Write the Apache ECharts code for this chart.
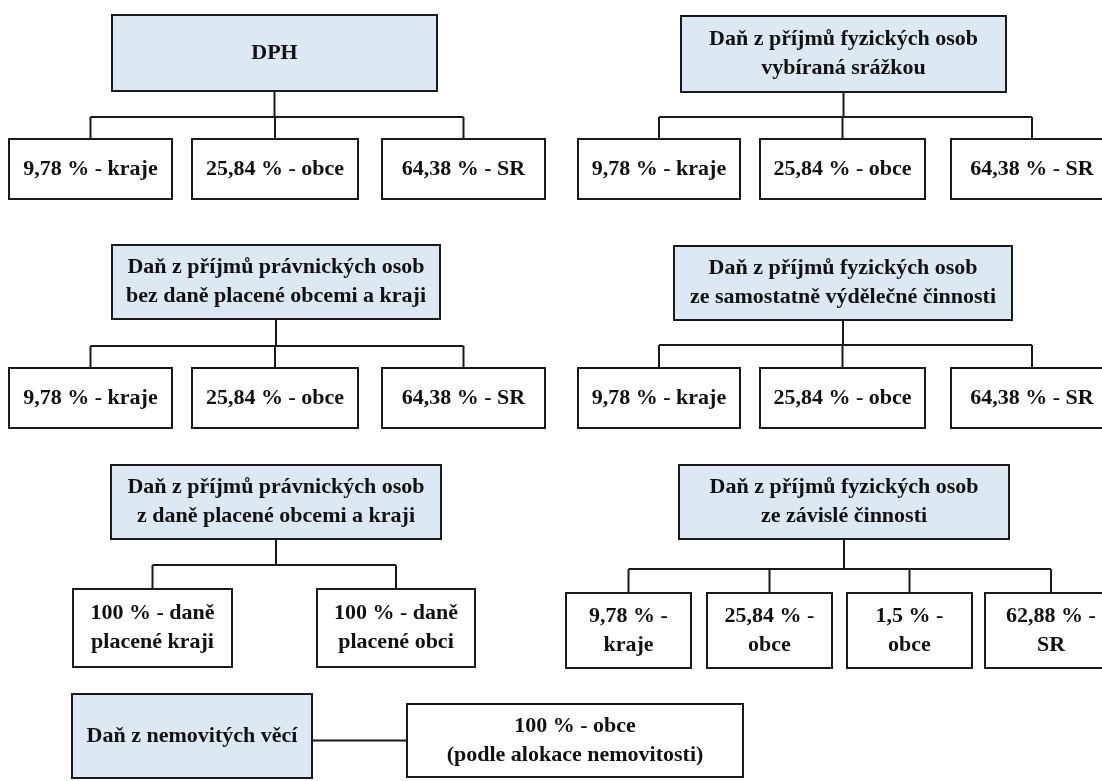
<!DOCTYPE html>
<html>
<head>
<meta charset="utf-8">
<script src="https://cdn.jsdelivr.net/npm/echarts@6/dist/echarts.min.js"></script>
<style>
  html, body { margin: 0; padding: 0; background: #fff; }
  #main { width: 1102px; height: 781px; }
</style>
</head>
<body>
<div id="main"></div>
<script>
var chartDom = document.getElementById("main");
var myChart = echarts.init(chartDom);

// taxes (header boxes)
var taxes = [
  "DPH",
  "Daň z příjmů fyzických osob\nvybíraná srážkou",
  "Daň z příjmů právnických osob\nbez daně placené obcemi a kraji",
  "Daň z příjmů fyzických osob\nze samostatně výdělečné činnosti",
  "Daň z příjmů právnických osob\nz daně placené obcemi a kraji",
  "Daň z příjmů fyzických osob\nze závislé činnosti",
  "Daň z nemovitých věcí"
];

// how each tax is split
var shares = [
  ["9,78 % - kraje", "25,84 % - obce", "64,38 % - SR"],
  ["9,78 % - kraje", "25,84 % - obce", "64,38 % - SR"],
  ["9,78 % - kraje", "25,84 % - obce", "64,38 % - SR"],
  ["9,78 % - kraje", "25,84 % - obce", "64,38 % - SR"],
  ["100 % - daně\nplacené kraji", "100 % - daně\nplacené obci"],
  ["9,78 % -\nkraje", "25,84 % -\nobce", "1,5 % -\nobce", "62,88 % -\nSR"],
  ["100 % - obce\n(podle alokace nemovitosti)"]
];

// layout of the diagram (page pixels, used through the hidden axes)
var layout = [
  { head: [112, 15, 437, 91], bus: 117, leafY: [139, 199], leafX: [[9, 172], [192, 358], [382, 545]] },
  { head: [681, 16, 1006, 92], bus: 117, leafY: [139, 199], leafX: [[578, 740], [760, 925], [951, 1113]] },
  { head: [112, 245, 440, 319], bus: 346, leafY: [368, 428], leafX: [[9, 172], [192, 358], [382, 545]] },
  { head: [674, 246, 1012, 320], bus: 345, leafY: [368, 428], leafX: [[578, 740], [760, 925], [951, 1113]] },
  { head: [111, 465, 441, 539], bus: 565, leafY: [589, 667], leafX: [[73, 232], [317, 475]] },
  { head: [679, 465, 1009, 539], bus: 569, leafY: [593, 668], leafX: [[566, 691], [707, 832], [847, 972], [985, 1117]] },
  { head: [72, 694, 312, 778], side: true, leafY: [704, 777], leafX: [[407, 743]] }
];

var boxes = [];
var links = [];
layout.forEach(function (g, i) {
  boxes.push({ r: g.head, text: taxes[i], head: true });
  g.leafX.forEach(function (lx, j) {
    boxes.push({ r: [lx[0], g.leafY[0], lx[1], g.leafY[1]], text: shares[i][j], head: false });
  });
  if (g.side) {
    var my = (g.leafY[0] + g.leafY[1]) / 2;
    links.push([[g.head[2], my], [g.leafX[0][0], my]]);
  } else {
    var hx = (g.head[0] + g.head[2]) / 2;
    var cx = g.leafX.map(function (lx) { return (lx[0] + lx[1]) / 2; });
    links.push([[hx, g.head[3]], [hx, g.bus]]);
    links.push([[cx[0], g.bus], [cx[cx.length - 1], g.bus]]);
    cx.forEach(function (x) { links.push([[x, g.bus], [x, g.leafY[0]]]); });
  }
});

var font = '"Liberation Serif", "Times New Roman", serif';

var option = {
  animation: false,
  grid: { left: 0, right: 0, top: 0, bottom: 0 },
  xAxis: { type: "value", min: 0, max: 1102, show: false },
  yAxis: { type: "value", min: 0, max: 781, inverse: true, show: false },
  series: [
    {
      type: "custom",
      coordinateSystem: "cartesian2d",
      clip: false,
      data: links.map(function (l, i) { return [i]; }),
      renderItem: function (params, api) {
        var l = links[params.dataIndex];
        var a = api.coord(l[0]);
        var b = api.coord(l[1]);
        return {
          type: "line",
          shape: { x1: a[0], y1: a[1], x2: b[0], y2: b[1] },
          style: { stroke: "#1a1a1a", lineWidth: 2 }
        };
      }
    },
    {
      type: "custom",
      coordinateSystem: "cartesian2d",
      clip: false,
      data: boxes.map(function (b, i) { return [i]; }),
      renderItem: function (params, api) {
        var b = boxes[params.dataIndex];
        var p0 = api.coord([b.r[0], b.r[1]]);
        var p1 = api.coord([b.r[2], b.r[3]]);
        return {
          type: "group",
          children: [
            {
              type: "rect",
              shape: { x: p0[0], y: p0[1], width: p1[0] - p0[0], height: p1[1] - p0[1] },
              style: { fill: b.head ? "#dde8f5" : "#ffffff", stroke: "#1a1a1a", lineWidth: 2 }
            },
            {
              type: "text",
              style: {
                text: b.text,
                x: (p0[0] + p1[0]) / 2,
                y: (p0[1] + p1[1]) / 2,
                align: "center",
                verticalAlign: "middle",
                fontFamily: font,
                fontWeight: "bold",
                fontSize: 22,
                lineHeight: 29,
                fill: "#111"
              }
            }
          ]
        };
      }
    }
  ]
};

option && myChart.setOption(option);
</script>
</body>
</html>
